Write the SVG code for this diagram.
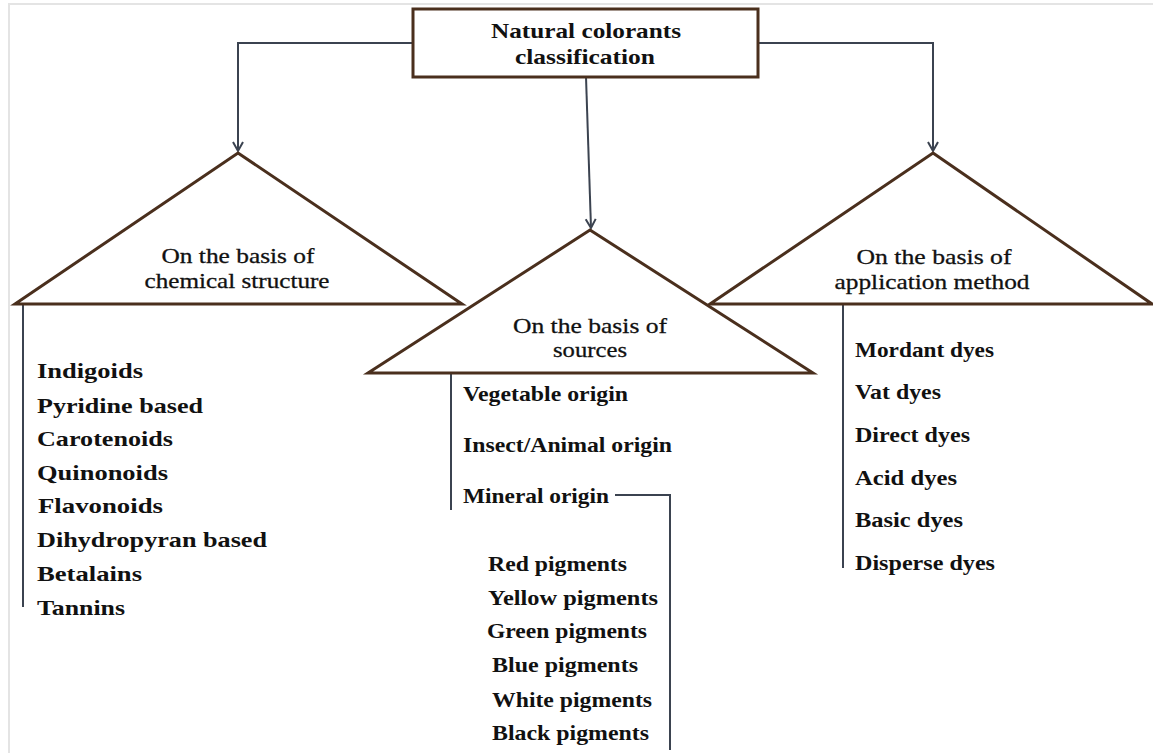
<svg xmlns="http://www.w3.org/2000/svg" width="1153" height="753" viewBox="0 0 1153 753">
<defs>
<style>
.frame{stroke:#e4e4e4;stroke-width:2;fill:none}
.shape{fill:#fff;stroke:#4a2f1d;stroke-width:3;stroke-linejoin:miter}
.conn{fill:none;stroke:#3b4350;stroke-width:2}
.t{font-family:"Liberation Serif","Times New Roman",serif;fill:#111}
.title{font-size:22px;font-weight:bold;text-anchor:middle}
.lab{font-size:22px;text-anchor:middle;stroke:#111;stroke-width:0.3}
.item{font-size:22px;font-weight:bold}
.item2{font-size:21px;font-weight:bold}
</style>
<marker id="arr" markerUnits="userSpaceOnUse" markerWidth="14" markerHeight="14" refX="11" refY="7" orient="auto" viewBox="0 0 14 14">
<path d="M2,2 L11,7 L2,12" fill="none" stroke="#3b4350" stroke-width="2"/>
</marker>
</defs>
<rect width="1153" height="753" fill="#fff"/>
<path class="frame" d="M9,753 L9,4 L1153,4"/>

<g id="connectors">
<path class="conn" d="M413,43 L238,43 L238,151" marker-end="url(#arr)"/>
<path class="conn" d="M758,43 L933,43 L933,151" marker-end="url(#arr)"/>
<path class="conn" d="M586,77 L591,228" marker-end="url(#arr)"/>
<path class="conn" d="M23,304 L23,607"/>
<path class="conn" d="M451,373 L451,510"/>
<path class="conn" d="M843,304 L843,568"/>
<path class="conn" d="M615,495 L670,495 L670,750"/>
</g>

<g id="node-root">
<rect class="shape" x="413" y="9" width="345" height="68"/>
<text class="t title" x="586" y="38" textLength="190" lengthAdjust="spacingAndGlyphs">Natural colorants</text>
<text class="t title" x="585" y="64" textLength="140" lengthAdjust="spacingAndGlyphs">classification</text>
</g>

<g id="node-chemical">
<polygon class="shape" points="238,153 462,304 15,304"/>
<text class="t lab" x="238" y="263" textLength="153" lengthAdjust="spacingAndGlyphs">On the basis of</text>
<text class="t lab" x="237" y="288" textLength="185" lengthAdjust="spacingAndGlyphs">chemical structure</text>
</g>

<g id="node-application">
<polygon class="shape" points="933,153 1152,304 710,304"/>
<text class="t lab" x="934" y="264" textLength="155" lengthAdjust="spacingAndGlyphs">On the basis of</text>
<text class="t lab" x="932" y="289" textLength="195" lengthAdjust="spacingAndGlyphs">application method</text>
</g>

<g id="node-sources">
<polygon class="shape" points="590,230 813,373 368,373"/>
<text class="t lab" x="590" y="333" textLength="154" lengthAdjust="spacingAndGlyphs">On the basis of</text>
<text class="t lab" x="590" y="357" textLength="74" lengthAdjust="spacingAndGlyphs">sources</text>
</g>

<g id="list-chemical">
<text class="t item" x="37" y="378" textLength="106" lengthAdjust="spacingAndGlyphs">Indigoids</text>
<text class="t item" x="37" y="413" textLength="166" lengthAdjust="spacingAndGlyphs">Pyridine based</text>
<text class="t item" x="37" y="446" textLength="136" lengthAdjust="spacingAndGlyphs">Carotenoids</text>
<text class="t item" x="37" y="480" textLength="131" lengthAdjust="spacingAndGlyphs">Quinonoids</text>
<text class="t item" x="38" y="513" textLength="125" lengthAdjust="spacingAndGlyphs">Flavonoids</text>
<text class="t item" x="37" y="547" textLength="230" lengthAdjust="spacingAndGlyphs">Dihydropyran based</text>
<text class="t item" x="37" y="581" textLength="105" lengthAdjust="spacingAndGlyphs">Betalains</text>
<text class="t item" x="37" y="615" textLength="88" lengthAdjust="spacingAndGlyphs">Tannins</text>
</g>

<g id="list-sources">
<text class="t item2" x="463" y="401" textLength="165" lengthAdjust="spacingAndGlyphs">Vegetable origin</text>
<text class="t item2" x="463" y="452" textLength="209" lengthAdjust="spacingAndGlyphs">Insect/Animal origin</text>
<text class="t item2" x="463" y="503" textLength="146" lengthAdjust="spacingAndGlyphs">Mineral origin</text>
</g>

<g id="list-pigments">
<text class="t item2" x="488" y="571" textLength="139" lengthAdjust="spacingAndGlyphs">Red pigments</text>
<text class="t item2" x="488" y="605" textLength="170" lengthAdjust="spacingAndGlyphs">Yellow pigments</text>
<text class="t item2" x="487" y="638" textLength="160" lengthAdjust="spacingAndGlyphs">Green pigments</text>
<text class="t item2" x="492" y="672" textLength="146" lengthAdjust="spacingAndGlyphs">Blue pigments</text>
<text class="t item2" x="492" y="707" textLength="160" lengthAdjust="spacingAndGlyphs">White pigments</text>
<text class="t item2" x="492" y="740" textLength="157" lengthAdjust="spacingAndGlyphs">Black pigments</text>
</g>

<g id="list-application">
<text class="t item2" x="855" y="357" textLength="139" lengthAdjust="spacingAndGlyphs">Mordant dyes</text>
<text class="t item2" x="855" y="399" textLength="86" lengthAdjust="spacingAndGlyphs">Vat dyes</text>
<text class="t item2" x="855" y="442" textLength="115" lengthAdjust="spacingAndGlyphs">Direct dyes</text>
<text class="t item2" x="855" y="485" textLength="102" lengthAdjust="spacingAndGlyphs">Acid dyes</text>
<text class="t item2" x="855" y="527" textLength="108" lengthAdjust="spacingAndGlyphs">Basic dyes</text>
<text class="t item2" x="855" y="570" textLength="140" lengthAdjust="spacingAndGlyphs">Disperse dyes</text>
</g>
</svg>
